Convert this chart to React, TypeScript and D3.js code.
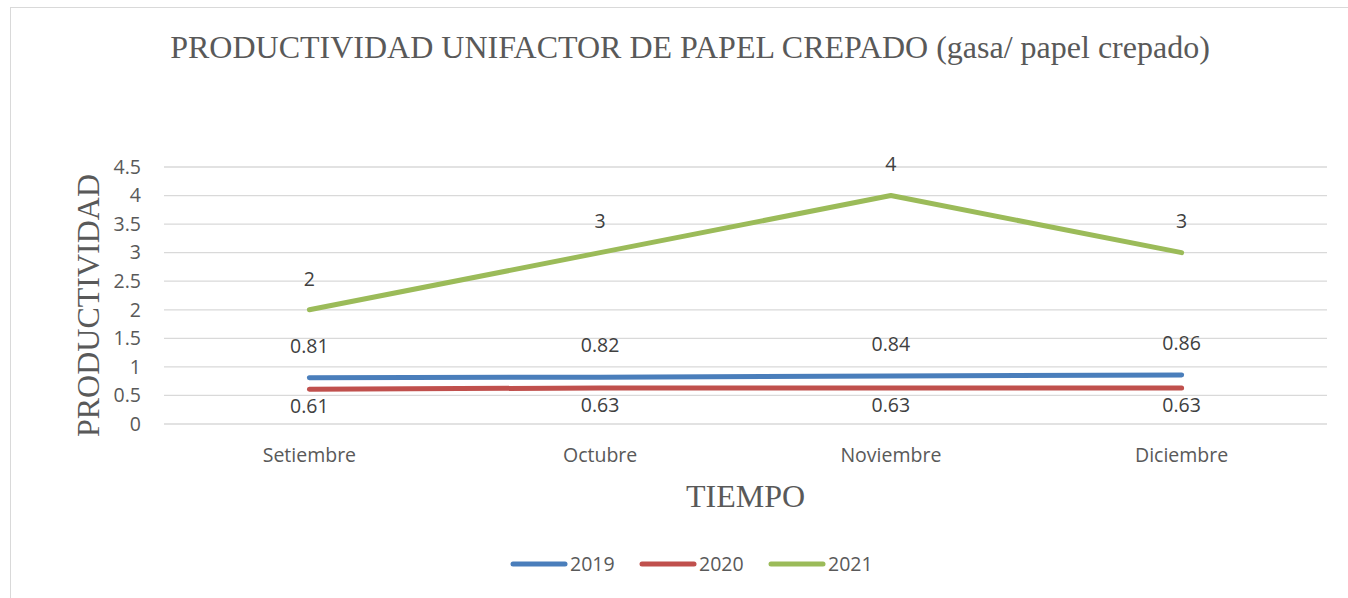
import * as d3 from 'd3';

const months = ['Setiembre', 'Octubre', 'Noviembre', 'Diciembre'];
const years = ['2019', '2020', '2021'];
const values2019 = [0.81, 0.82, 0.84, 0.86];
const values2020 = [0.61, 0.63, 0.63, 0.63];
const values2021 = [2, 3, 4, 3];
const yTicks = [0, 0.5, 1, 1.5, 2, 2.5, 3, 3.5, 4, 4.5];

const W = 1348;
const H = 598;
const margin = { top: 167, right: 21, bottom: 174, left: 164 };
const innerW = W - margin.left - margin.right;
const innerH = H - margin.top - margin.bottom;

const colors = ['#4A7EBB', '#C0504D', '#9BBB59'];
// vertical offset of the data labels, per series
const labelDy = [-32, 17, -31];
const textColor = '#595959';
const sansFont = '"Open Sans", Lato, sans-serif';
const serifFont = '"Liberation Serif", "DejaVu Serif", serif';
const sansSize = 19.5;

export default function App() {
  const series = [values2019, values2020, values2021];

  const x = d3.scaleBand<string>().domain(months).range([0, innerW]).padding(0);
  const y = d3.scaleLinear().domain([0, 4.5]).range([innerH, 0]);
  const cx = (m: string) => (x(m) ?? 0) + x.bandwidth() / 2;

  const line = d3
    .line<number>()
    .x((_, i) => cx(months[i]))
    .y(d => y(d));

  const legendX = [511, 640, 769];

  return (
    <svg
      width={W}
      height={H}
      style={{ position: 'absolute', left: 0, top: 0, background: '#fff' }}
    >
      <rect x={10.5} y={7.5} width={1400} height={700} fill="#fff" stroke="#D9D9D9" />

      <text
        x={690}
        y={58}
        textAnchor="middle"
        fontFamily={serifFont}
        fontSize={32}
        fill={textColor}
      >
        PRODUCTIVIDAD UNIFACTOR DE PAPEL CREPADO (gasa/ papel crepado)
      </text>

      <g transform={`translate(${margin.left},${margin.top})`}>
        {yTicks.map(t => (
          <g key={t}>
            <line x1={0} x2={innerW} y1={y(t)} y2={y(t)} stroke="#D9D9D9" strokeWidth={1.3} />
            <text
              x={-23}
              y={y(t)}
              dy="0.35em"
              textAnchor="end"
              fontFamily={sansFont}
              fontSize={sansSize}
              fill={textColor}
            >
              {t}
            </text>
          </g>
        ))}

        {months.map(m => (
          <text
            key={m}
            x={cx(m)}
            y={innerH + 31}
            dy="0.35em"
            textAnchor="middle"
            fontFamily={sansFont}
            fontSize={sansSize}
            fill={textColor}
          >
            {m}
          </text>
        ))}

        {series.map((vals, s) => (
          <path
            key={years[s]}
            d={line(vals) ?? ''}
            fill="none"
            stroke={colors[s]}
            strokeWidth={5}
            strokeLinecap="round"
            strokeLinejoin="round"
          />
        ))}

        {series.map((vals, s) =>
          vals.map((v, i) => (
            <text
              key={`${s}-${i}`}
              x={cx(months[i])}
              y={y(v) + labelDy[s]}
              dy="0.35em"
              textAnchor="middle"
              fontFamily={sansFont}
              fontSize={sansSize}
              fill="#404040"
            >
              {v}
            </text>
          ))
        )}
      </g>

      <text
        transform={`translate(88,${margin.top + innerH / 2 + 10}) rotate(-90)`}
        textAnchor="middle"
        dy="0.35em"
        fontFamily={serifFont}
        fontSize={32}
        fill={textColor}
      >
        PRODUCTIVIDAD
      </text>

      <text
        x={margin.left + innerW / 2}
        y={496}
        dy="0.35em"
        textAnchor="middle"
        fontFamily={serifFont}
        fontSize={32}
        fill={textColor}
      >
        TIEMPO
      </text>

      {years.map((yr, s) => (
        <g key={yr} transform={`translate(${legendX[s]},564)`}>
          <line x1={2} x2={54} y1={0} y2={0} stroke={colors[s]} strokeWidth={5} strokeLinecap="round" />
          <text x={59} y={0} dy="0.35em" fontFamily={sansFont} fontSize={sansSize} fill={textColor}>
            {yr}
          </text>
        </g>
      ))}
    </svg>
  );
}
